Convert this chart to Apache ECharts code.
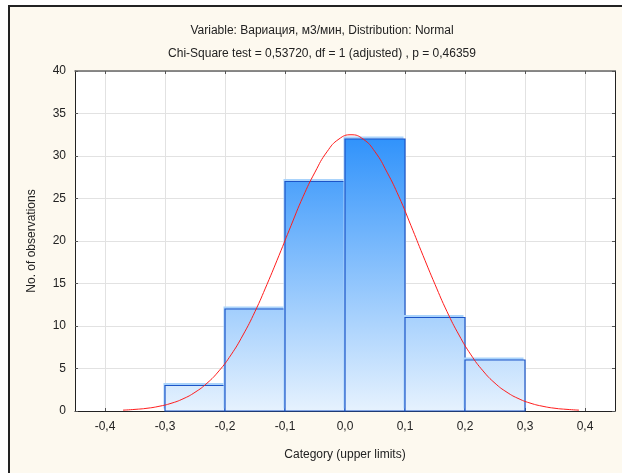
<!DOCTYPE html>
<html>
<head>
<meta charset="utf-8">
<script src="https://cdn.jsdelivr.net/npm/echarts@6/dist/echarts.min.js"></script>
<style>
html, body { margin: 0; padding: 0; background: #fff; }
#chart { width: 622px; height: 473px; }
</style>
</head>
<body>
<div id="chart"></div>
<script>
// histogram bins (upper limits) and counts
var binUpper = [-0.2, -0.1, 0.0, 0.1, 0.2, 0.3];
var counts = [3, 12, 27, 32, 11, 6];
var binWidth = 0.1;

// tick labels
var xTicks = [-0.4, -0.3, -0.2, -0.1, 0.0, 0.1, 0.2, 0.3, 0.4];

// fitted normal curve
var curveX = [-0.37, -0.35, -0.33, -0.31, -0.29, -0.27, -0.25, -0.23, -0.21, -0.19,
              -0.17, -0.15, -0.13, -0.11, -0.09, -0.07, -0.05, -0.03, -0.01, 0.01,
              0.03, 0.05, 0.07, 0.09, 0.11, 0.13, 0.15, 0.17, 0.19, 0.21,
              0.23, 0.25, 0.27, 0.29, 0.31, 0.33, 0.35, 0.37, 0.39];
var curveY = [0.10, 0.19, 0.32, 0.55, 0.90, 1.43, 2.20, 3.27, 4.72, 6.60,
              8.94, 11.7, 14.9, 18.3, 21.8, 25.2, 28.1, 30.5, 32.0, 32.5,
              32.0, 30.5, 28.1, 25.2, 21.8, 18.3, 14.9, 11.7, 8.94, 6.60,
              4.72, 3.27, 2.20, 1.43, 0.90, 0.55, 0.32, 0.19, 0.10];

var titleLine1 = 'Variable: Вариация, м3/мин, Distribution: Normal';
var titleLine2 = 'Chi-Square test = 0,53720, df = 1 (adjusted) , p = 0,46359';

var chart = echarts.init(document.getElementById('chart'));

var font = '"Liberation Sans", Arial, sans-serif';
var maxCount = Math.max.apply(null, counts);

function fmt(v) {
    var s = (Math.abs(v) < 1e-9 ? 0 : v).toFixed(1);
    return s.replace('.', ',');
}

function renderBin(params, api) {
    var hi = api.value(0);
    var n = api.value(1);
    var p0 = api.coord([hi - binWidth, n]);
    var p1 = api.coord([hi, 0]);
    var gTop = api.coord([0, maxCount])[1];
    var gBot = api.coord([0, 0])[1];
    var w = p1[0] - p0[0], h = p1[1] - p0[1];
    return {
        type: 'group',
        children: [
            {
                // light halo above / left of the bar
                type: 'rect',
                shape: { x: p0[0] - 1.5, y: p0[1] - 2.5, width: w, height: h },
                style: { fill: '#a9d3fb' }
            },
            {
                type: 'rect',
                shape: { x: p0[0], y: p0[1], width: w, height: h },
                style: {
                    fill: {
                        type: 'linear', x: 0, y: gTop, x2: 0, y2: gBot, global: true,
                        colorStops: [
                            { offset: 0, color: '#3193fb' },
                            { offset: 1, color: '#e6f2fe' }
                        ]
                    },
                    stroke: '#1c55c8',
                    lineWidth: 1.2
                }
            }
        ]
    };
}

var option = {
    backgroundColor: '#fff',
    animation: false,
    graphic: [
        {
            type: 'rect',
            z: -10,
            shape: { x: 9, y: 6, width: 700, height: 600 },
            style: { fill: '#fdf9ef', stroke: '#222', lineWidth: 2 }
        },
        {
            type: 'text',
            x: 322, y: 31,
            style: { text: titleLine1, align: 'center', verticalAlign: 'middle', font: '12px ' + font, fill: '#222' }
        },
        {
            type: 'text',
            x: 322, y: 54,
            style: { text: titleLine2, align: 'center', verticalAlign: 'middle', font: '12px ' + font, fill: '#222' }
        }
    ],
    grid: {
        left: 75,
        right: 7,
        top: 71,
        bottom: 62,
        show: true,
        backgroundColor: '#fff',
        borderWidth: 0
    },
    xAxis: [
        {
            type: 'value',
            min: -0.45,
            max: 0.45,
            name: 'Category (upper limits)',
            nameLocation: 'middle',
            nameGap: 38,
            nameTextStyle: { fontFamily: font, fontSize: 12, color: '#222' },
            axisLine: { onZero: false, lineStyle: { color: '#222', width: 1 } },
            axisTick: { inside: true, length: 3, customValues: xTicks, lineStyle: { color: '#555' } },
            axisLabel: { customValues: xTicks, formatter: fmt, margin: 10, fontFamily: font, fontSize: 12, color: '#222' },
            splitLine: { show: true, customValues: xTicks, lineStyle: { color: '#e2e2e2', width: 1 } }
        },
        {
            type: 'value',
            position: 'top',
            min: -0.45,
            max: 0.45,
            axisLine: { show: true, onZero: false, lineStyle: { color: '#666', width: 1.5 } },
            axisTick: { show: true, inside: true, length: 3, customValues: xTicks, lineStyle: { color: '#555' } },
            axisLabel: { show: false },
            splitLine: { show: false }
        }
    ],
    yAxis: [
        {
            type: 'value',
            min: 0,
            max: 40,
            interval: 5,
            name: 'No. of observations',
            nameLocation: 'middle',
            nameGap: 37,
            nameTextStyle: { fontFamily: font, fontSize: 12, color: '#222' },
            axisLine: { show: true, onZero: false, lineStyle: { color: '#222', width: 1 } },
            axisTick: { show: true, inside: true, length: 3, lineStyle: { color: '#555' } },
            axisLabel: { margin: 9, fontFamily: font, fontSize: 12, color: '#222' },
            splitLine: { show: true, lineStyle: { color: '#e2e2e2', width: 1 } }
        },
        {
            type: 'value',
            position: 'right',
            min: 0,
            max: 40,
            interval: 5,
            axisLine: { show: true, onZero: false, lineStyle: { color: '#222', width: 1 } },
            axisTick: { show: true, inside: true, length: 3, lineStyle: { color: '#555' } },
            axisLabel: { show: false },
            splitLine: { show: false }
        }
    ],
    series: [
        {
            type: 'custom',
            renderItem: renderBin,
            z: 2,
            data: binUpper.map(function (u, i) { return [u, counts[i]]; })
        },
        {
            type: 'line',
            z: 3,
            smooth: true,
            showSymbol: false,
            lineStyle: { color: '#ff1c1c', width: 1 },
            data: curveX.map(function (x, i) { return [x, curveY[i]]; })
        }
    ]
};

chart.setOption(option);

window.addEventListener('resize', function () {
    chart.resize();
});
</script>
</body>
</html>
